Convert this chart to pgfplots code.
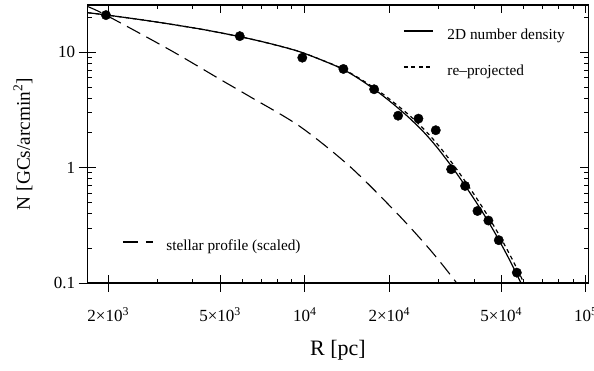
\documentclass[border=0pt]{standalone}
\usepackage{fontspec}
\setmainfont{Liberation Serif}
\usepackage{pgfplots}
\pgfplotsset{compat=1.18}

\pgfplotstableread{
x y
1963 21.0
5872 13.8
9800 8.98
13720 7.17
17650 4.78
21480 2.82
25370 2.66
29240 2.11
33170 0.968
37180 0.694
41140 0.421
45000 0.348
48990 0.235
56800 0.123
}\gcpoints

\pgfplotstableread{
x y
1690 22.03
1963 21.08
2815 18.67
4240 15.92
5886 13.65
7522 11.90
9623 10.09
12303 7.996
13688 7.096
15225 6.109
17507 4.857
20118 3.747
23127 2.805
26363 2.060
29566 1.496
33440 1.010
37202 0.698
40700 0.5023
44553 0.3535
48739 0.2425
53333 0.1611
58383 0.1032
63374 0.0665
}\solidcurve

\pgfplotstableread{
x y
1690 22.03
1963 21.08
2815 18.67
4240 15.92
5886 13.65
7522 11.90
9623 10.09
12352 7.996
13770 7.096
15350 6.109
17796 4.857
20520 3.747
23703 2.805
27019 2.060
30302 1.496
34273 1.010
38128 0.698
41713 0.5023
45662 0.3535
49953 0.2425
54661 0.1611
59837 0.1032
64952 0.0665
}\reproj

\pgfplotstableread{
x y
1690 24.9
1963 21.0
3316 10.47
4996 5.83
6386 4.12
9623 2.27
14490 1.02
21260 0.403
27920 0.194
34740 0.0996
36500 0.08
}\stellar

\begin{document}
\begin{tikzpicture}
\useasboundingbox (-87.7pt,-88pt) rectangle (506.3pt,283pt);
\begin{axis}[
  at={(0pt,0pt)}, anchor=south west,
  scale only axis, width=500.6pt, height=278pt,
  xmode=log, ymode=log,
  xmin=1690, xmax=102000, ymin=0.1, ymax=25.7,
  xtick={2000,5000,10000,20000,50000,100000},
  ytick={0.1,1,10},
  axis line style={line width=1.1pt, black},
  every tick/.style={line width=0.9pt, black},
  tick align=inside,
  major tick length=8pt, minor tick length=4.5pt,
  minor xtick={3000,4000,6000,7000,8000,9000,30000,40000,60000,70000,80000,90000},
  minor ytick={0.2,0.3,0.4,0.5,0.6,0.7,0.8,0.9,2,3,4,5,6,7,8,9,20},
  xticklabels={}, yticklabels={},
  legend style={at={(axis description cs:0.630,0.824)}, anchor=west,
    draw=none, fill=none, inner sep=0pt, row sep=20pt,
    font=\fontsize{15.3}{15.3}\selectfont,
    nodes={inner sep=0pt, text height=12pt, text depth=4pt}},
  legend cell align=left,
  legend image code/.code={\draw[#1] (0pt,5pt) -- (29pt,5pt); \path (43pt,5pt);},
]
\addplot[black, line width=1.2pt, smooth] table[x=x,y=y] {\solidcurve};
\addlegendentry{2D number density}
\addplot[black, line width=1.2pt, dash pattern=on 4pt off 3.5pt, smooth] table[x=x,y=y] {\reproj};
\addlegendentry{re\textendash projected}
\addplot[black, line width=1.1pt, dash pattern=on 15pt off 7pt, smooth, forget plot] table[x=x,y=y] {\stellar};
\addplot[only marks, mark=*, mark size=4.7pt, black, forget plot] table[x=x,y=y] {\gcpoints};
\end{axis}
\begin{axis}[
  at={(0pt,0pt)}, anchor=south west,
  scale only axis, width=500.6pt, height=278pt,
  xmode=log, ymode=log,
  xmin=1690, xmax=102000, ymin=0.1, ymax=25.7,
  xtick={2000,5000,10000,20000,50000,100000},
  ytick={0.1,1,10},
  axis line style={line width=1.1pt, black},
  every tick/.style={line width=0.9pt, black},
  tick pos=left, tick align=outside, major tick length=9pt,
  minor x tick style={draw=none}, minor y tick style={draw=none},
  xticklabels={2×10\textsuperscript{3},5×10\textsuperscript{3},10\textsuperscript{4},2×10\textsuperscript{4},5×10\textsuperscript{4},10\textsuperscript{5}},
  yticklabels={0.1,1,10},
  ticklabel style={font=\fontsize{17}{17}\selectfont},
  xticklabel style={anchor=base, yshift=-30pt},
  xlabel={R [pc]}, ylabel={N [GCs/arcmin\textsuperscript{2}]},
  xlabel style={font=\fontsize{22}{22}\selectfont, at={(axis description cs:0.5,-0.259)}, anchor=base},
  ylabel style={font=\fontsize{19.3}{19.3}\selectfont, at={(axis description cs:-0.1153,0.5)}, anchor=base},
  legend style={at={(axis description cs:0.0685,0.1295)}, anchor=west,
    draw=none, fill=none, inner sep=0pt,
    font=\fontsize{15.3}{15.3}\selectfont,
    nodes={inner sep=0pt, text height=12pt, text depth=4pt}},
  legend cell align=left,
  legend image code/.code={\draw[#1] (0pt,5pt) -- (30pt,5pt); \path (43pt,5pt);},
]
\addlegendimage{black, line width=1.1pt, dash pattern=on 15pt off 8pt}
\addlegendentry{stellar profile (scaled)}
\end{axis}
\end{tikzpicture}
\end{document}
